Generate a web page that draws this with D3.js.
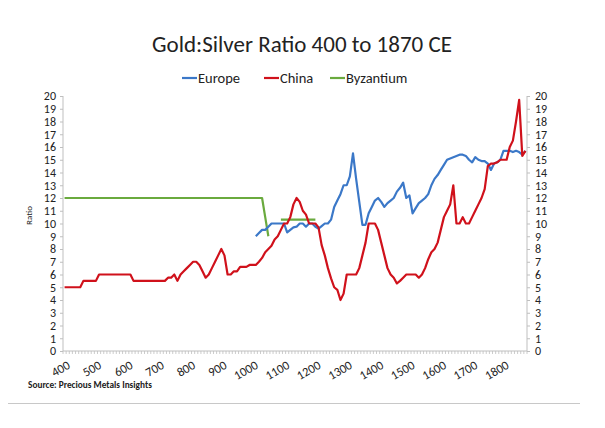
<!DOCTYPE html>
<html>
<head>
<meta charset="utf-8">
<script src="https://cdn.jsdelivr.net/npm/d3@7"></script>
<style>
  body { margin: 0; background: #fff; }
  text { font-family: Carlito, Lato, "Open Sans", sans-serif; fill: #222; }
</style>
</head>
<body>
<div class="chart"></div>
<script>
var svgWidth = 605;
var svgHeight = 428;

// category axis: one category per decade, labels every century
var firstYear = 400, lastYear = 1870;
var yearLabels = [400, 500, 600, 700, 800, 900, 1000, 1100, 1200, 1300, 1400, 1500, 1600, 1700, 1800];
var ratioTicks = [0, 1, 2, 3, 4, 5, 6, 7, 8, 9, 10, 11, 12, 13, 14, 15, 16, 17, 18, 19, 20];

// China (red)
var chinaYear = [400, 450, 460, 500, 510, 610, 620, 720, 730, 740, 750, 760, 770, 780, 790, 800, 810, 820, 830, 840, 850, 860, 870, 880, 890, 900,
  910, 920, 930, 940, 950, 960, 980, 990, 1010, 1020, 1030, 1040, 1050, 1060, 1070, 1080, 1090, 1100, 1110, 1120, 1130, 1140, 1150, 1160, 1170,
  1180, 1200, 1210, 1220, 1230, 1240, 1250, 1260, 1270, 1280, 1290, 1300, 1330, 1340, 1350, 1360, 1370, 1390, 1400, 1410, 1420, 1430, 1440,
  1450, 1460, 1470, 1480, 1490, 1520, 1530, 1540, 1550, 1560, 1570, 1580, 1590, 1600, 1610, 1620, 1630, 1640, 1650, 1660, 1670, 1680, 1690,
  1700, 1710, 1720, 1730, 1740, 1750, 1760, 1770, 1780, 1790, 1810, 1820, 1830, 1840, 1850, 1860, 1870];
var chinaRatio = [5, 5, 5.5, 5.5, 6, 6, 5.5, 5.5, 5.75, 5.75, 6, 5.5, 6, 6.25, 6.5, 6.75, 7, 7, 6.75, 6.25, 5.75, 6, 6.5, 7, 7.5, 8,
  7.5, 6, 6, 6.25, 6.25, 6.6, 6.6, 6.75, 6.75, 7, 7.3, 7.75, 8, 8.25, 8.75, 9, 9.5, 10, 10, 10.5, 11.5, 12, 11.7, 11, 10.7,
  10, 10, 9.7, 8.3, 7.5, 6.5, 5.7, 5, 4.8, 4, 4.5, 6, 6, 6.5, 7.5, 8.5, 10, 10, 9.5, 8.5, 7.5, 6.5, 6,
  5.75, 5.3, 5.5, 5.75, 6, 6, 5.75, 6, 6.5, 7.2, 7.75, 8, 8.5, 9.5, 10.5, 11, 11.5, 13, 10, 10, 10.5, 10, 10,
  10.5, 11, 11.5, 12, 12.7, 14.5, 14.7, 14.7, 14.8, 15, 15, 16, 16.5, 18, 19.7, 15.3, 15.7];

// Europe (blue)
var europeYear = [1010, 1020, 1030, 1040, 1050, 1060, 1100, 1110, 1120, 1130, 1140, 1150, 1160, 1170, 1180, 1190, 1200, 1210, 1220, 1230,
  1240, 1250, 1260, 1270, 1280, 1290, 1300, 1310, 1320, 1330, 1340, 1350, 1360, 1370, 1380, 1390, 1400, 1410, 1420, 1430, 1440, 1450,
  1460, 1470, 1480, 1490, 1500, 1510, 1520, 1530, 1540, 1550, 1560, 1570, 1580, 1590, 1600, 1610, 1620, 1630, 1640, 1650, 1660, 1670,
  1680, 1690, 1700, 1710, 1720, 1730, 1740, 1750, 1760, 1770, 1780, 1790, 1800, 1810, 1820, 1830, 1840, 1850, 1860, 1870];
var europeRatio = [9, 9.25, 9.5, 9.5, 9.75, 10, 10, 9.3, 9.5, 9.7, 9.75, 10, 10, 9.75, 10, 10, 9.75, 9.6, 9.8, 10,
  10, 10.3, 11.3, 11.8, 12.3, 13, 13, 13.7, 15.5, 13.5, 11.7, 9.9, 9.9, 10.8, 11.3, 11.8, 12, 11.7, 11.3, 11.6, 11.8, 12,
  12.5, 12.8, 13.2, 12, 12.2, 10.8, 11.2, 11.6, 11.8, 12, 12.3, 13, 13.5, 13.8, 14.2, 14.6, 15, 15.1, 15.2, 15.3, 15.4, 15.4,
  15.3, 15, 14.8, 15.2, 15, 14.9, 14.9, 14.7, 14.2, 14.7, 14.8, 15, 15.7, 15.7, 15.7, 15.6, 15.7, 15.6, 15.4, 15.7];

// Byzantium (green), gap between the two runs
var byzYear = [400, 1030, 1040, 1050, 1060, 1090, 1200];
var byzRatio = [12, 12, 10.5, 9, null, 10.3, 10.3];

var margin = { left: 63, right: 78, top: 96, bottom: 77 };
var width = svgWidth - margin.left - margin.right;
var height = svgHeight - margin.top - margin.bottom;

var svg = d3.select(".chart")
  .append("svg")
  .attr("width", svgWidth)
  .attr("height", svgHeight);

// title + legend
svg.append("text")
  .attr("x", 302)
  .attr("y", 52)
  .attr("text-anchor", "middle")
  .style("font-size", "23px")
  .style("font-weight", "300")
  .text("Gold:Silver Ratio 400 to 1870 CE");

var legendItems = [
  { name: "Europe", color: "#3b78c8", x: 182 },
  { name: "China", color: "#d0111b", x: 264 },
  { name: "Byzantium", color: "#6aaa3e", x: 330 }
];
var legend = svg.append("g").attr("transform", "translate(0,78)");
legendItems.forEach(function(d) {
  legend.append("line")
    .attr("x1", d.x).attr("x2", d.x + 15)
    .attr("y1", 0).attr("y2", 0)
    .attr("stroke", d.color).attr("stroke-width", 2.2);
  legend.append("text")
    .attr("x", d.x + 16)
    .attr("y", 5)
    .style("font-size", "14.5px")
    .text(d.name);
});

var chart = svg.append("g")
  .attr("transform", "translate(" + margin.left + "," + margin.top + ")");

// each decade is one category, points sit in the middle of it
var x = d3.scaleLinear()
  .domain([firstYear - 5, lastYear + 5])
  .range([0, width]);
var y = d3.scaleLinear()
  .domain([0, 20])
  .range([height, 0]);

var axisColor = "#bfbfbf";

var leftAxis = chart.append("g")
  .call(d3.axisLeft(y).tickValues(ratioTicks).tickSize(3).tickPadding(4));
var rightAxis = chart.append("g")
  .attr("transform", "translate(" + width + ",0)")
  .call(d3.axisRight(y).tickValues(ratioTicks).tickSize(3).tickPadding(5));

[leftAxis, rightAxis].forEach(function(a) {
  a.select(".domain").attr("stroke", axisColor).attr("d", "M0,0V" + height);
  a.selectAll(".tick line").attr("stroke", axisColor);
  a.selectAll(".tick text")
    .style("font-size", "12px")
    .style("font-family", "Carlito, Lato, sans-serif")
    .attr("fill", "#222");
});

// bottom axis: minor ticks at each decade boundary
var boundaries = d3.range(firstYear - 5, lastYear + 6, 10);
var bottom = chart.append("g").attr("transform", "translate(0," + height + ")");
bottom.append("line")
  .attr("x1", 0).attr("x2", width)
  .attr("stroke", axisColor);
bottom.selectAll(".minor")
  .data(boundaries)
  .enter().append("line")
  .attr("x1", function(d) { return x(d); })
  .attr("x2", function(d) { return x(d); })
  .attr("y1", 0).attr("y2", 3)
  .attr("stroke", axisColor)
  .attr("stroke-width", 0.8);
bottom.selectAll(".yl")
  .data(yearLabels)
  .enter().append("text")
  .attr("transform", function(d) { return "translate(" + (x(d) + 2) + ",9) rotate(-30)"; })
  .attr("text-anchor", "end")
  .attr("dy", "0.7em")
  .style("font-size", "12.5px")
  .text(function(d) { return d; });

// y axis title
chart.append("text")
  .attr("transform", "rotate(-90)")
  .attr("x", -height / 2 + 8)
  .attr("y", -31)
  .attr("text-anchor", "middle")
  .style("font-size", "9px")
  .text("Ratio");

// lines
function series(years, values) {
  return years.map(function(yr, i) { return { year: yr, value: values[i] }; });
}
var line = d3.line()
  .defined(function(d) { return d.value !== null; })
  .x(function(d) { return x(d.year); })
  .y(function(d) { return y(d.value); });

var lines = [
  { data: series(byzYear, byzRatio), color: "#6aaa3e" },
  { data: series(europeYear, europeRatio), color: "#3b78c8" },
  { data: series(chinaYear, chinaRatio), color: "#d0111b" }
];
lines.forEach(function(s) {
  chart.append("path")
    .datum(s.data)
    .attr("fill", "none")
    .attr("stroke", s.color)
    .attr("stroke-width", 2.2)
    .attr("stroke-linejoin", "round")
    .attr("d", line);
});

// source note and rule
svg.append("text")
  .attr("x", 28)
  .attr("y", 388)
  .style("font-size", "9.3px")
  .style("font-weight", "bold")
  .text("Source: Precious Metals Insights");

svg.append("line")
  .attr("x1", 8).attr("x2", 580)
  .attr("y1", 403.5).attr("y2", 403.5)
  .attr("stroke", "#c8c8c8")
  .attr("stroke-width", 1);
</script>
</body>
</html>
